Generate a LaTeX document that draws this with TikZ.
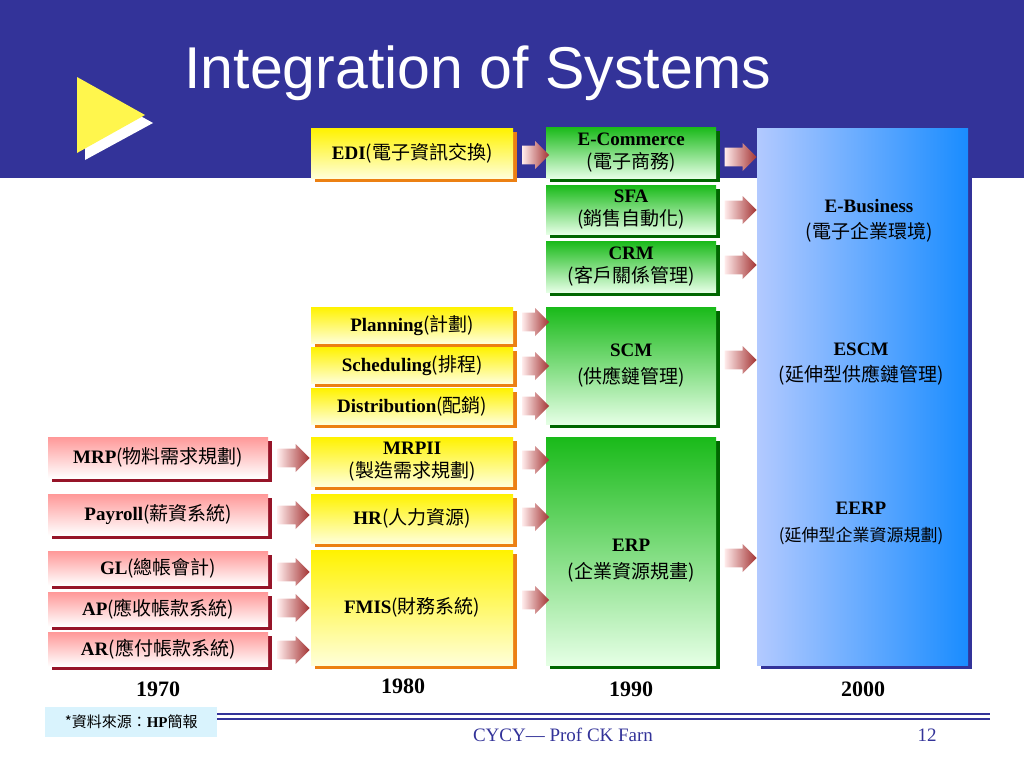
\documentclass[tikz,border=0pt]{standalone}
\usepackage{fontspec}
\setmainfont{Liberation Serif}
\newfontfamily\cjk{Noto Sans CJK TC}
\newfontfamily\headfont{Liberation Sans}
\usetikzlibrary{shapes.arrows,shadows}
\definecolor{navy}{RGB}{51,51,153}
\definecolor{darkpink}{RGB}{150,20,40}
\tikzset{
  sysbox/.style={draw=none,inner sep=0pt,align=center,font=\fontsize{19}{23}\selectfont,anchor=north west},
  yelbox/.style={sysbox,top color=yellow!90!orange,bottom color=yellow!15,
    drop shadow={shadow xshift=4pt,shadow yshift=-4pt,fill=orange!70!brown,opacity=1}},
  grnbox/.style={sysbox,top color=green!70!black!90,bottom color=green!10,
    drop shadow={shadow xshift=4pt,shadow yshift=-4pt,fill=green!40!black,opacity=1}},
  pnkbox/.style={sysbox,top color=pink!80!red,bottom color=white,
    drop shadow={shadow xshift=4pt,shadow yshift=-4pt,fill=darkpink,opacity=1}},
  blubox/.style={sysbox,left color=cyan!30!blue!30,right color=blue!50!cyan!90,
    drop shadow={shadow xshift=4pt,shadow yshift=-4pt,fill=navy,opacity=1}},
  flow/.style={single arrow,single arrow head extend=4pt,minimum height=32pt,minimum width=28pt,
    inner sep=0pt,left color=red!8,right color=red!55!black!80,draw=none},
  year/.style={font=\fontsize{22}{22}\selectfont\bfseries}
}
\newcommand{\zh}[1]{{\cjk #1}}
\newcommand{\shaft}{\rule{0pt}{16pt}}
\begin{document}
\begin{tikzpicture}[x=1pt,y=-1pt]
\useasboundingbox (0,0) rectangle (1024,768);
% header
\fill[navy] (0,0) rectangle (1024,178);
\fill[white] (85,85) -- (153,123) -- (85,160) -- cycle;
\fill[yellow!70!white] (77,77) -- (145,115) -- (77,153) -- cycle;
\node[anchor=base west,text=white,font=\headfont\fontsize{59}{59}\selectfont] (title) at (181,88) {Integration of Systems};
% 2000
\node[blubox,minimum width=211pt,minimum height=537pt] (ebiz) at (757,128) {};
\node[font=\fontsize{19}{26}\selectfont,align=center] (ebiztxt) at (869,221) {\textbf{E-Business}\\\zh{(電子企業環境)}};
\node[font=\fontsize{19}{26}\selectfont,align=center] (escm) at (861,364) {\textbf{ESCM}\\\zh{(延伸型供應鏈管理)}};
\node[font=\fontsize{19}{27}\selectfont,align=center] (eerp) at (861,523) {\textbf{EERP}\\\zh{\fontsize{17}{27}\selectfont(延伸型企業資源規劃)}};
% 1990
\node[grnbox,minimum width=170pt,minimum height=51pt] (ecom) at (546,127) {\textbf{E-Commerce}\\\zh{(電子商務)}};
\node[grnbox,minimum width=170pt,minimum height=49pt] (sfa) at (546,185) {\textbf{SFA}\\\zh{(銷售自動化)}};
\node[grnbox,minimum width=170pt,minimum height=51pt] (crm) at (546,241) {\textbf{CRM}\\\zh{(客戶關係管理)}};
\node[grnbox,minimum width=170pt,minimum height=117pt,font=\fontsize{19}{27}\selectfont] (scm) at (546,307) {\textbf{SCM}\\\zh{(供應鏈管理)}};
\node[grnbox,minimum width=170pt,minimum height=228pt,font=\fontsize{19}{27}\selectfont] (erp) at (546,437) {\\[4pt]\textbf{ERP}\\\zh{(企業資源規畫)}};
% 1980
\node[yelbox,minimum width=202pt,minimum height=50pt] (edi) at (311,128) {\textbf{EDI}\zh{(電子資訊交換)}};
\node[yelbox,minimum width=202pt,minimum height=36pt] (plan) at (311,307) {\textbf{Planning}\zh{(計劃)}};
\node[yelbox,minimum width=202pt,minimum height=36pt] (sched) at (311,347) {\textbf{Scheduling}\zh{(排程)}};
\node[yelbox,minimum width=202pt,minimum height=36pt] (dist) at (311,388) {\textbf{Distribution}\zh{(配銷)}};
\node[yelbox,minimum width=202pt,minimum height=49pt] (mrpii) at (311,437) {\textbf{MRPII}\\\zh{(製造需求規劃)}};
\node[yelbox,minimum width=202pt,minimum height=49pt] (hr) at (311,494) {\textbf{HR}\zh{(人力資源)}};
\node[yelbox,minimum width=202pt,minimum height=115pt] (fmis) at (311,550) {\textbf{FMIS}\zh{(財務系統)}};
% 1970
\node[pnkbox,minimum width=220pt,minimum height=41pt] (mrp) at (48,437) {\textbf{MRP}\zh{(物料需求規劃)}};
\node[pnkbox,minimum width=220pt,minimum height=41pt] (payroll) at (48,494) {\textbf{Payroll}\zh{(薪資系統)}};
\node[pnkbox,minimum width=220pt,minimum height=34pt] (gl) at (48,551) {\textbf{GL}\zh{(總帳會計)}};
\node[pnkbox,minimum width=220pt,minimum height=34pt] (ap) at (48,592) {\textbf{AP}\zh{(應收帳款系統)}};
\node[pnkbox,minimum width=220pt,minimum height=34pt] (ar) at (48,632) {\textbf{AR}\zh{(應付帳款系統)}};
% arrows
\foreach \y in {458,515,572,608,650} \node[flow] at (289,\y) {\shaft};
\foreach \y in {155,322,366,406,460,517,600} \node[flow,minimum height=27pt] at (531,\y) {\shaft};
\foreach \y in {157,210,265,360,558} \node[flow] at (736,\y) {\shaft};
% years
\node[year] (y70) at (158,689) {1970};
\node[year] (y80) at (403,686) {1980};
\node[year] (y90) at (631,689) {1990};
\node[year] (y00) at (863,689) {2000};
% footer
\draw[navy,line width=1.2pt] (217,714) -- (990,714);
\draw[navy,line width=1.2pt] (217,719) -- (990,719);
\node[fill=cyan!15,minimum width=172pt,minimum height=30pt,anchor=north west,inner sep=0pt,font=\fontsize{15}{15}\selectfont] (src) at (45,707) {\zh{*資料來源：}\textbf{HP}\zh{簡報}};
\node[text=navy,font=\fontsize{19}{19}\selectfont] (foot) at (563,735) {CYCY— Prof CK Farn};
\node[text=navy,font=\fontsize{19}{19}\selectfont] (page) at (927,735) {12};
\end{tikzpicture}
\end{document}
